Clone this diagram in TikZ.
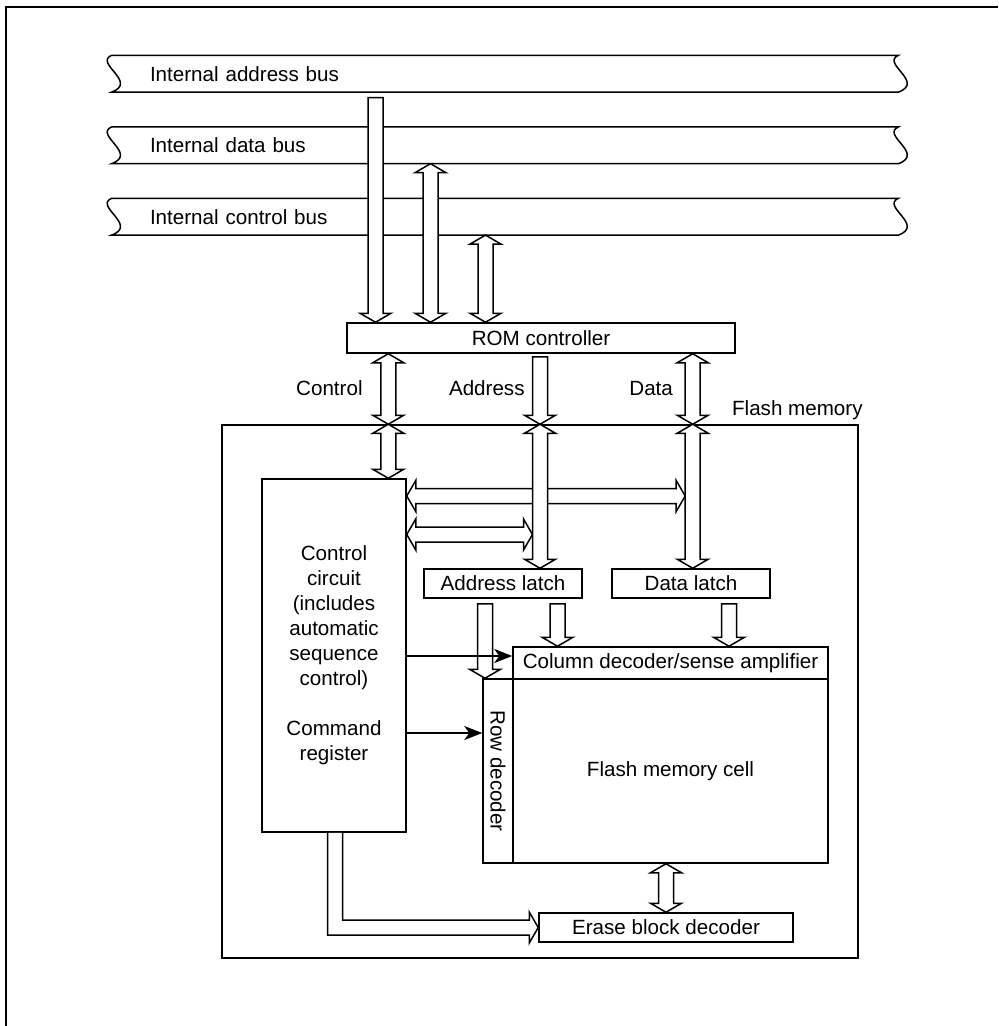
\documentclass[tikz,border=0pt]{standalone}
\usepackage{fontspec}
\setmainfont{Liberation Sans}
\usetikzlibrary{arrows.meta,calc}

\begin{document}
\begin{tikzpicture}[
  x=0.5pt,y=-0.5pt,
  txt/.style={font=\fontsize{10.3pt}{12.5pt}\selectfont},
  wire/.style={line width=0.75pt},
  box/.style={draw,wire,txt,inner sep=0pt,align=center},
  bus/.style={txt,minimum width=393pt,minimum height=18pt,text width=355pt,
              inner xsep=19pt,inner ysep=0pt,align=left},
  lbl/.style={txt,inner sep=0pt},
  onehead/.style={wire,draw,fill=white,to path={
    let \p1=(\tikztostart), \p2=(\tikztotarget),
        \n1={atan2(\y2-\y1,\x2-\x1)}, \n2={veclen(\x2-\x1,\y2-\y1)} in
    {[shift={(\p1)},rotate=\n1]
      (0pt,3.75pt) -- ({\n2-4.5pt},3.75pt) -- ({\n2-4.5pt},7.75pt) -- (\n2,0pt)
      -- ({\n2-4.5pt},-7.75pt) -- ({\n2-4.5pt},-3.75pt) -- (0pt,-3.75pt) -- cycle}}},
  twohead/.style={wire,draw,fill=white,to path={
    let \p1=(\tikztostart), \p2=(\tikztotarget),
        \n1={atan2(\y2-\y1,\x2-\x1)}, \n2={veclen(\x2-\x1,\y2-\y1)} in
    {[shift={(\p1)},rotate=\n1]
      (4.5pt,3.75pt) -- ({\n2-4.5pt},3.75pt) -- ({\n2-4.5pt},7.75pt) -- (\n2,0pt)
      -- ({\n2-4.5pt},-7.75pt) -- ({\n2-4.5pt},-3.75pt) -- (4.5pt,-3.75pt)
      -- (4.5pt,-7.75pt) -- (0pt,0pt) -- (4.5pt,7.75pt) -- cycle}}},
  signal/.style={wire,-{Stealth[length=9pt,width=7pt,inset=2.5pt]}}
]

  \useasboundingbox (0,0) rectangle (998,1026);
  \draw[line width=1pt] (5.5,1026) -- (5.5,7.3) -- (998,7.3);

  % internal buses
  \node[bus] (abus) at (505,73.7) {Internal address bus};
  \node[bus] (dbus) at (505,145.3) {Internal data bus};
  \node[bus] (cbus) at (505,216.7) {Internal control bus};

  \draw[wire] (abus.north west) -- (abus.north east) .. controls +(-18,8) and +(27,-10) .. (abus.south east)
    -- (abus.south west) .. controls +(27,-10) and +(-18,8) .. (abus.north west);
  \draw[wire] (dbus.north west) -- (dbus.north east) .. controls +(-18,8) and +(27,-10) .. (dbus.south east)
    -- (dbus.south west) .. controls +(27,-10) and +(-18,8) .. (dbus.north west);
  \draw[wire] (cbus.north west) -- (cbus.north east) .. controls +(-18,8) and +(27,-10) .. (cbus.south east)
    -- (cbus.south west) .. controls +(27,-10) and +(-18,8) .. (cbus.north west);

  % blocks
  \node[box,minimum width=194pt,minimum height=15pt] (rom) at (541,338) {ROM controller};
  \node[box,minimum width=318pt,minimum height=266.5pt] (flash) at (540,691.5) {};
  \node[lbl,anchor=base east] (flashlbl) at (863,415) {Flash memory};

  \node[box,minimum width=72pt,minimum height=176.5pt] (ctrl) at (334,655.5)
    {Control\\circuit\\(includes\\automatic\\sequence\\control)\\[12.5pt]Command\\register};
  \node[box,minimum width=79pt,minimum height=14.5pt] (alatch) at (503,583.5) {Address latch};
  \node[box,minimum width=79pt,minimum height=14.5pt] (dlatch) at (691,583.5) {Data latch};
  \node[box,minimum width=157.5pt,minimum height=16pt] (coldec) at (670.5,663) {Column decoder/sense amplifier};
  \node[box,minimum width=157.5pt,minimum height=92pt] (cell) at (670.5,771) {Flash memory cell};
  \node[box,minimum width=92pt,minimum height=15pt,rotate=-90] (rowdec) at (498,771) {Row decoder};
  \node[box,minimum width=127pt,minimum height=14.5pt] (erase) at (666,927.5) {Erase block decoder};

  \node[lbl,anchor=base east] (lblC) at (363,395) {Control};
  \node[lbl,anchor=base east] (lblA) at (525,395) {Address};
  \node[lbl,anchor=base east] (lblD) at (673.3,395) {Data};

  % lanes
  \coordinate (colA) at (375.5,0);
  \coordinate (colD) at (430.5,0);
  \coordinate (colC) at (485.5,0);
  \coordinate (laneC) at (388.3,0);
  \coordinate (laneA) at (540,0);
  \coordinate (laneD) at (692.7,0);
  \coordinate (laneR) at (485,0);
  \coordinate (laneS) at (557.5,0);
  \coordinate (laneT) at (729,0);
  \coordinate (laneE) at (335.2,0);
  \coordinate (rowU) at (0,496);
  \coordinate (rowL) at (0,534.5);

  % buses to ROM controller
  \draw[onehead] ($(abus.south -| colA)+(0,-2.8pt)$) to (rom.north -| colA);
  \draw[twohead] (dbus.south -| colD) to (rom.north -| colD);
  \draw[twohead] (cbus.south -| colC) to (rom.north -| colC);

  % ROM controller to flash memory
  \draw[twohead] (rom.south -| laneC) to (flash.north -| laneC);
  \draw[onehead] ($(rom.south -| laneA)+(0,-1.5pt)$) to (flash.north -| laneA);
  \draw[twohead] (rom.south -| laneD) to (flash.north -| laneD);

  % inside flash memory
  \draw[twohead] (flash.north -| laneC) to (ctrl.north -| laneC);
  \draw[twohead] (ctrl.east |- rowU) to ($(rowU -| laneD)+(-3.75pt,0)$);
  \draw[twohead] (ctrl.east |- rowL) to ($(rowL -| laneA)+(-3.75pt,0)$);
  \draw[twohead] (flash.north -| laneA) to (alatch.north -| laneA);
  \draw[twohead] (flash.north -| laneD) to (dlatch.north -| laneD);

  \draw[onehead] ($(alatch.south -| laneR)+(0,-2.5pt)$) to (rowdec.west -| laneR);
  \draw[onehead] ($(alatch.south -| laneS)+(0,-2.5pt)$) to (coldec.north -| laneS);
  \draw[onehead] ($(dlatch.south -| laneT)+(0,-2.5pt)$) to (coldec.north -| laneT);
  \draw[twohead] (cell.south -| erase.north) to (erase.north);

  \draw[wire,fill=white] let \p1=(ctrl.south -| laneE), \p2=(erase.west) in
    (\x1-3.75pt,\y1) -- (\x1-3.75pt,\y2-3.75pt) -- (\x2-4.5pt,\y2-3.75pt) -- (\x2-4.5pt,\y2-7.75pt)
    -- (\p2) -- (\x2-4.5pt,\y2+7.75pt) -- (\x2-4.5pt,\y2+3.75pt) -- (\x1+3.75pt,\y2+3.75pt) -- (\x1+3.75pt,\y1);

  \coordinate (hitC) at ([yshift=3.5pt]coldec.west);
  \coordinate (hitR) at ([yshift=19pt]rowdec.south);
  \draw[signal] (ctrl.east |- hitC) -- (hitC);
  \draw[signal] (ctrl.east |- hitR) -- (hitR);

\end{tikzpicture}
\end{document}
